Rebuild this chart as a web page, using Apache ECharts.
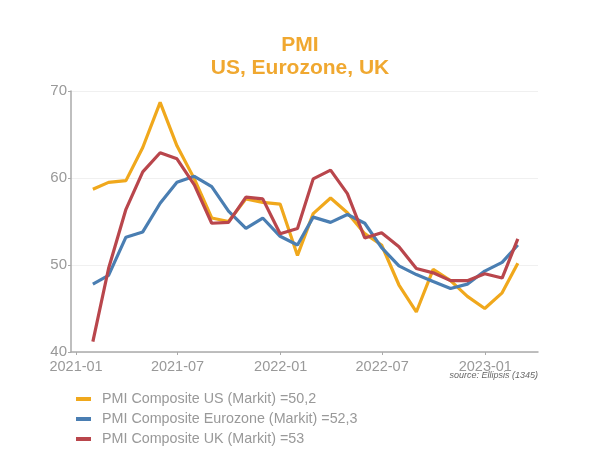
<!DOCTYPE html>
<html><head><meta charset="utf-8">
<script src="https://cdn.jsdelivr.net/npm/echarts@6/dist/echarts.min.js"></script>
<style>html,body{margin:0;padding:0;background:#fff}#c{width:600px;height:469px}</style>
</head><body><div id="c"></div>
<script>
var dates = ['2021-01-31','2021-02-28','2021-03-31','2021-04-30','2021-05-31','2021-06-30','2021-07-31','2021-08-31','2021-09-30','2021-10-31','2021-11-30','2021-12-31',
'2022-01-31','2022-02-28','2022-03-31','2022-04-30','2022-05-31','2022-06-30','2022-07-31','2022-08-31','2022-09-30','2022-10-31','2022-11-30','2022-12-31',
'2023-01-31','2023-02-28'];
var us = [58.7,59.5,59.7,63.5,68.7,63.7,59.9,55.4,55.0,57.6,57.2,57.0,51.1,55.9,57.7,56.0,53.6,52.3,47.7,44.6,49.5,48.2,46.4,45.0,46.8,50.2];
var ez = [47.8,48.8,53.2,53.8,57.1,59.5,60.2,59.0,56.2,54.2,55.4,53.3,52.3,55.5,54.9,55.8,54.8,52.0,49.9,48.9,48.1,47.3,47.8,49.3,50.3,52.3];
var uk = [41.2,49.6,56.4,60.7,62.9,62.2,59.2,54.8,54.9,57.8,57.6,53.6,54.2,59.9,60.9,58.2,53.1,53.7,52.1,49.6,49.1,48.2,48.2,49.0,48.5,53.0];
var xTicks = ['2021-01','2021-07','2022-01','2022-07','2023-01'];
var names = ['PMI Composite US (Markit) =50,2','PMI Composite Eurozone (Markit) =52,3','PMI Composite UK (Markit) =53'];
var colors = ['#f0a81c','#4a7eb2','#b9464c'];

function ts(s){ return +new Date(s + 'T00:00:00Z'); }
function pairs(vals){ return vals.map(function(v,i){ return [ts(dates[i]), v]; }); }
var tickVals = xTicks.map(function(t){ return ts(t + '-01'); });

var chart = echarts.init(document.getElementById('c'));
chart.setOption({
  animation: false,
  color: colors,
  title: {
    text: 'PMI\nUS, Eurozone, UK',
    left: 'center', top: 29,
    textStyle: { color: '#f0a830', fontSize: 21, fontWeight: 'bold', lineHeight: 23, fontFamily: 'Liberation Sans, Arial' }
  },
  grid: { left: 71, right: 62, top: 91, bottom: 117, containLabel: false },
  xAxis: {
    type: 'value',
    min: ts('2020-12-23'),
    max: ts('2023-04-05'),
    axisLine: { show: true, lineStyle: { color: '#aaa', width: 1.5 } },
    axisTick: { show: true, customValues: tickVals, length: 3, lineStyle: { color: '#aaa' } },
    axisLabel: {
      customValues: tickVals,
      color: '#999', fontSize: 14.5, fontFamily: 'Liberation Sans, Arial', margin: 7,
      formatter: function(v){ var i = tickVals.indexOf(v); return i >= 0 ? xTicks[i] : ''; }
    },
    splitLine: { show: false }
  },
  yAxis: {
    type: 'value', min: 40, max: 70, interval: 10,
    axisLine: { show: true, lineStyle: { color: '#aaa', width: 1.5 } },
    axisTick: { show: true, length: 3, lineStyle: { color: '#aaa' } },
    axisLabel: { color: '#999', fontSize: 15, fontFamily: 'Liberation Sans, Arial', margin: 4 },
    splitLine: { show: true, lineStyle: { color: '#f0f0f0' } }
  },
  legend: {
    orient: 'vertical', left: 71, top: 387, itemGap: 6,
    icon: 'rect', itemWidth: 15, itemHeight: 4,
    textStyle: { color: '#999', fontSize: 14.3, fontFamily: 'Liberation Sans, Arial', padding: [0, 0, 0, 6] },
    data: names
  },
  graphic: [{
    type: 'text', right: 62, top: 371,
    style: { text: 'source: Ellipsis (1345)', fill: '#666', font: 'italic 9px Liberation Sans, Arial' }
  }],
  series: [
    { name: names[0], type: 'line', data: pairs(us), showSymbol: false, lineStyle: { width: 3.2 } },
    { name: names[1], type: 'line', data: pairs(ez), showSymbol: false, lineStyle: { width: 3.2 } },
    { name: names[2], type: 'line', data: pairs(uk), showSymbol: false, lineStyle: { width: 3.2 } }
  ]
});
</script></body></html>
